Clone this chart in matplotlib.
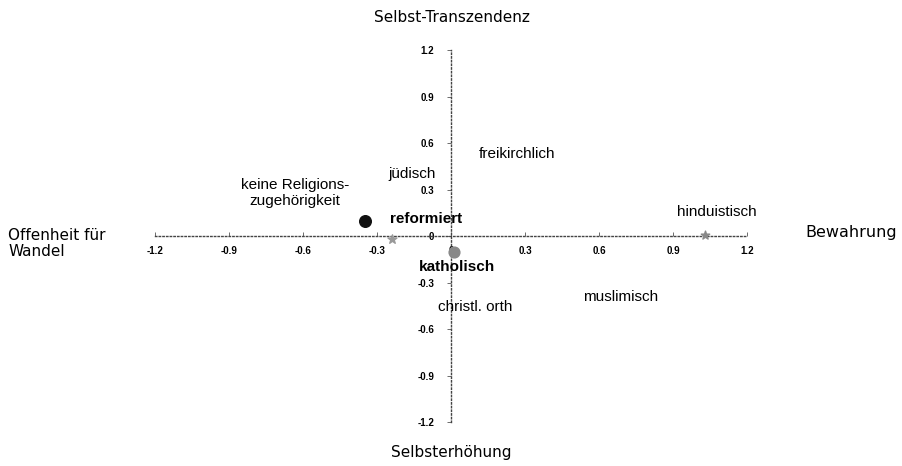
import matplotlib.pyplot as plt
import numpy as np

plt.rcParams['font.family'] = ['Liberation Sans', 'DejaVu Sans']

# Religionsgruppen und Lage im Werteraum
gruppen = ['keine Religions-\nzugehörigkeit', 'reformiert', 'katholisch', 'hinduistisch',
           'jüdisch', 'freikirchlich', 'christl. orth', 'muslimisch']
x_wert = [-0.35, -0.24, 0.01, 1.03, -0.16, 0.27, 0.08, 0.70]
y_wert = [0.10, -0.02, -0.10, 0.01, 0.40, 0.53, -0.46, -0.39]
marker_typ = ['o', '*', 'o', '*', None, None, None, None]
marker_farbe = ['#111111', '#999999', '#888888', '#888888', None, None, None, None]
marker_groesse = [70, 45, 60, 40, 0, 0, 0, 0]

# Beschriftungsposition (Text) je Gruppe
text_x = [-0.632, -0.247, -0.13, 0.916, -0.255, 0.113, -0.053, 0.535]
text_y = [0.28, 0.11, -0.20, 0.155, 0.40, 0.53, -0.46, -0.39]
text_fett = [False, True, True, False, False, False, False, False]

ticks = [-1.2, -0.9, -0.6, -0.3, 0, 0.3, 0.6, 0.9, 1.2]
tick_text = ['-1.2', '-0.9', '-0.6', '-0.3', '0', '0.3', '0.6', '0.9', '1.2']

fig = plt.figure(figsize=(9.03, 4.66), dpi=100)
ax = fig.add_axes([0.1717, 0.0944, 0.6556, 0.798])
ax.set_xlim(-1.2, 1.2)
ax.set_ylim(-1.2, 1.2)

for s in ['top', 'right']:
    ax.spines[s].set_visible(False)
ax.spines['left'].set_position(('data', 0))
ax.spines['bottom'].set_position(('data', 0))
for s in ['left', 'bottom']:
    ax.spines[s].set_linestyle(':')
    ax.spines[s].set_color('#444444')
    ax.spines[s].set_linewidth(1.0)

ax.set_xticks(ticks)
ax.set_yticks(ticks)
ax.set_xticklabels(tick_text)
ax.set_yticklabels(tick_text)
ax.tick_params(axis='both', labelsize=7, length=3, width=0.6, color='#555555')
ax.tick_params(axis='x', direction='in', pad=7)
ax.tick_params(axis='y', direction='out', pad=9)
for lab in ax.get_xticklabels() + ax.get_yticklabels():
    lab.set_fontweight('bold')

for i in range(len(gruppen)):
    if marker_typ[i] is not None:
        ax.scatter(x_wert[i], y_wert[i], marker=marker_typ[i], s=marker_groesse[i],
                   color=marker_farbe[i], zorder=3)
    ax.text(text_x[i], text_y[i], gruppen[i], fontsize=11,
            fontweight='bold' if text_fett[i] else 'normal',
            ha='left' if i != 0 else 'center', va='center', zorder=4)

# Achsenbeschriftungen aussen
fig.text(0.5, 0.963, 'Selbst-Transzendenz', ha='center', va='center', fontsize=11,
         family=['DejaVu Sans'])
fig.text(0.5, 0.03, 'Selbsterhöhung', ha='center', va='center', fontsize=11,
         family=['DejaVu Sans'])
fig.text(0.009, 0.478, 'Offenheit für\nWandel', ha='left', va='center', fontsize=11,
         family=['DejaVu Sans'], linespacing=1.1)
fig.text(0.993, 0.502, 'Bewahrung', ha='right', va='center', fontsize=11.5,
         family=['DejaVu Sans'])

fig.savefig('out.png', dpi=100)
